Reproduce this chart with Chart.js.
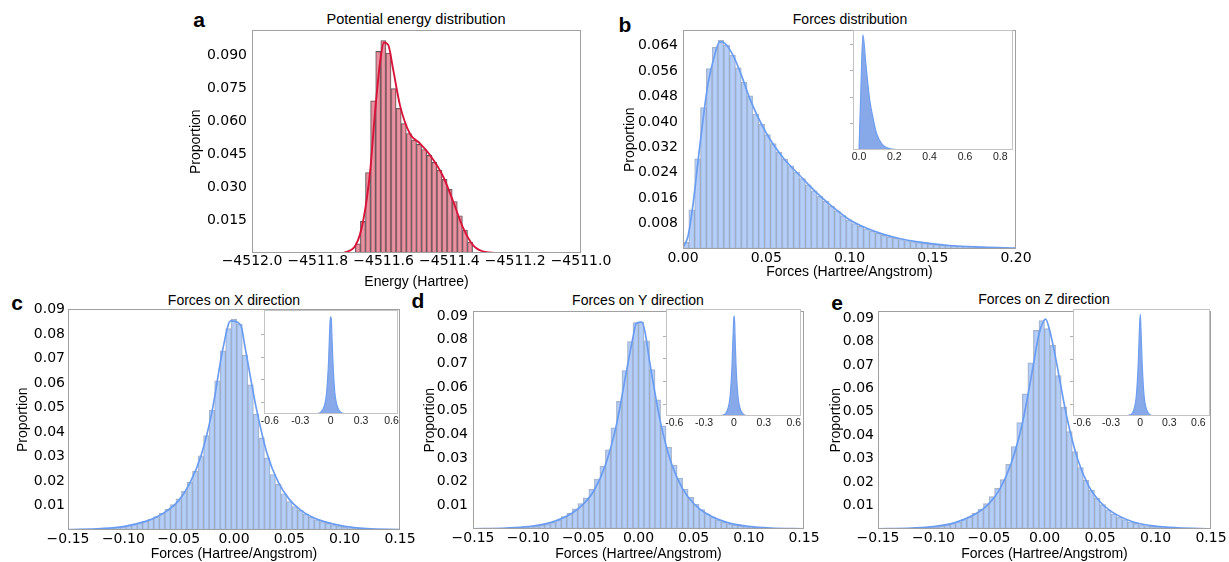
<!DOCTYPE html>
<html>
<head>
<meta charset="utf-8">
<script src="https://cdn.jsdelivr.net/npm/chart.js@4.4.1/dist/chart.umd.min.js"></script>
<style>
  html, body { margin: 0; padding: 0; background: #fff; }
  body { position: relative; width: 1229px; height: 562px; overflow: hidden; }
  canvas { position: absolute; }
  .ttl { position: absolute; font-family: "Liberation Sans", Arial, sans-serif; font-size: 14px; color: #000; white-space: nowrap; transform: translate(-50%, -50%); }
  .lt { position: absolute; font-family: "Liberation Sans", Arial, sans-serif; font-weight: bold; font-size: 21px; line-height: 21px; color: #000; transform: translateX(-50%); }
</style>
</head>
<body>
<div class="lt" style="left:199px;top:9px">a</div>
<div class="lt" style="left:625px;top:14px">b</div>
<div class="lt" style="left:17px;top:292px">c</div>
<div class="lt" style="left:418px;top:290px">d</div>
<div class="lt" style="left:837px;top:292px">e</div>

<div class="ttl" style="left:416px;top:19px;font-size:14.5px">Potential energy distribution</div>
<div class="ttl" style="left:850px;top:19px">Forces distribution</div>
<div class="ttl" style="left:234px;top:300px">Forces on X direction</div>
<div class="ttl" style="left:638px;top:300px">Forces on Y direction</div>
<div class="ttl" style="left:1044px;top:299px">Forces on Z direction</div>

<canvas id="pa"></canvas>
<canvas id="pb"></canvas>
<canvas id="pc"></canvas>
<canvas id="pd"></canvas>
<canvas id="pe"></canvas>
<canvas id="ib"></canvas>
<canvas id="ic"></canvas>
<canvas id="id"></canvas>
<canvas id="ie"></canvas>

<script>
// ---- panel a : potential energy ----
const energyBinStart = -4511.686;
const energyBinWidth = 0.0155;
const energyBars = [0.0042, 0.0144, 0.0367, 0.0694, 0.0919, 0.0969, 0.0912, 0.0750, 0.0660, 0.0590,
  0.0545, 0.0515, 0.0495, 0.0472, 0.0445, 0.0413, 0.0378, 0.0336, 0.0290, 0.0235, 0.0170, 0.0105, 0.0050];
const energyKdeX = [-4511.7225, -4511.685, -4511.662, -4511.641, -4511.626, -4511.611, -4511.599, -4511.586,
  -4511.571, -4511.550, -4511.520, -4511.489, -4511.459, -4511.419, -4511.389, -4511.359, -4511.327, -4511.287, -4511.236];
const energyKdeY = [0, 0.0035, 0.0147, 0.0372, 0.0642, 0.0867, 0.0960, 0.0949, 0.0837, 0.0672, 0.0544, 0.0499,
  0.0447, 0.0349, 0.0237, 0.0117, 0.0034, 0.0004, 0];
const energyXTicks = [-4512.0, -4511.8, -4511.6, -4511.4, -4511.2, -4511.0];
const energyXLabels = ['−4512.0', '−4511.8', '−4511.6', '−4511.4', '−4511.2', '−4511.0'];
const energyYTicks = [0.015, 0.030, 0.045, 0.060, 0.075, 0.090];
const energyYLabels = ['0.015', '0.030', '0.045', '0.060', '0.075', '0.090'];

// ---- panel b : force magnitude ----
const forceBinStart = 0;
const forceBinWidth = 0.0035;
const forceBars = [0.0021, 0.0123, 0.0284, 0.0445, 0.0568, 0.0635, 0.0657, 0.0642, 0.0610, 0.0570,
  0.0525, 0.0482, 0.0425, 0.0392, 0.0360, 0.0332, 0.0305, 0.0283, 0.0262, 0.0242,
  0.0222, 0.0202, 0.0183, 0.0166, 0.0150, 0.0135, 0.0120, 0.0105, 0.0092, 0.0080,
  0.0071, 0.0063, 0.0056, 0.0049, 0.0043, 0.0038, 0.0034, 0.0030, 0.0026, 0.0023,
  0.0020, 0.0018, 0.0016, 0.0014, 0.0012, 0.0011, 0.0010, 0.0009, 0.0008, 0.0007,
  0.0006, 0.0005, 0.0005, 0.0004, 0.0004, 0.0003, 0.0003];
const forceKdeX = [0, 0.003, 0.006, 0.01, 0.015, 0.019, 0.022, 0.025, 0.03, 0.035, 0.04, 0.05, 0.06, 0.07,
  0.08, 0.09, 0.10, 0.11, 0.12, 0.13, 0.14, 0.16, 0.18, 0.20];
const forceKdeY = [0.0005, 0.004, 0.014, 0.032, 0.052, 0.061, 0.0652, 0.0648, 0.0610, 0.0548, 0.0475, 0.0365,
  0.0288, 0.0232, 0.0178, 0.0132, 0.0092, 0.0066, 0.0047, 0.0033, 0.0023, 0.0011, 0.0006, 0.0003];
const forceXTicks = [0, 0.05, 0.10, 0.15, 0.20];
const forceXLabels = ['0.00', '0.05', '0.10', '0.15', '0.20'];
const forceYTicks = [0.008, 0.016, 0.024, 0.032, 0.040, 0.048, 0.056, 0.064];
const forceYLabels = ['0.008', '0.016', '0.024', '0.032', '0.040', '0.048', '0.056', '0.064'];
const forceInsetX = [0, 0.01, 0.022, 0.04, 0.06, 0.08, 0.10, 0.13, 0.16, 0.2, 0.3, 0.5, 0.87];
const forceInsetY = [0, 0.032, 0.0652, 0.0475, 0.0288, 0.0178, 0.0092, 0.0033, 0.0012, 0.0003, 0.0001, 0, 0];
const forceInsetXTicks = [0, 0.2, 0.4, 0.6, 0.8];
const forceInsetXLabels = ['0.0', '0.2', '0.4', '0.6', '0.8'];

// ---- panels c, d, e : force components ----
const compXTicks = [-0.15, -0.10, -0.05, 0, 0.05, 0.10, 0.15];
const compXLabels = ['−0.15', '−0.10', '−0.05', '0.00', '0.05', '0.10', '0.15'];
const compYTicks = [0.01, 0.02, 0.03, 0.04, 0.05, 0.06, 0.07, 0.08, 0.09];
const compYLabels = ['0.01', '0.02', '0.03', '0.04', '0.05', '0.06', '0.07', '0.08', '0.09'];
const compInsetXTicks = [-0.6, -0.3, 0, 0.3, 0.6];
const compInsetXLabels = ['-0.6', '-0.3', '0', '0.3', '0.6'];
const compBinWidth = 0.005;

const fxBinStart = -0.1525;
const fxBars = [0.0001, 0.0001, 0.0001, 0.0002, 0.0002, 0.0003, 0.0004, 0.0005, 0.0007, 0.0009,
  0.0013, 0.0017, 0.0023, 0.0028, 0.0035, 0.0044, 0.0055, 0.0069, 0.0084, 0.0104,
  0.0127, 0.0158, 0.0195, 0.0240, 0.0303, 0.0385, 0.0489, 0.0609, 0.0731, 0.0822,
  0.0860,
  0.0839, 0.0714, 0.0592, 0.0473, 0.0376, 0.0294, 0.0226, 0.0186, 0.0148, 0.0116,
  0.0096, 0.0080, 0.0065, 0.0053, 0.0042, 0.0034, 0.0027, 0.0021, 0.0016, 0.0012,
  0.0009, 0.0007, 0.0005, 0.0004, 0.0003, 0.0002, 0.0002, 0.0001, 0.0001];
const fxKdeX = [-0.15, -0.12, -0.10, -0.08, -0.07, -0.06, -0.05, -0.04, -0.03, -0.02, -0.01, -0.003,
  0.006, 0.01, 0.02, 0.03, 0.04, 0.05, 0.06, 0.07, 0.08, 0.10, 0.12, 0.15];
const fxKdeY = [0.0002, 0.0006, 0.0014, 0.0035, 0.0053, 0.0080, 0.0120, 0.0190, 0.0300, 0.0480, 0.0740, 0.0853,
  0.0837, 0.0745, 0.0500, 0.0310, 0.0195, 0.0125, 0.0082, 0.0054, 0.0036, 0.0015, 0.0006, 0.0002];
const fxInsetX = [-0.66, -0.3, -0.15, -0.1, -0.06, -0.04, -0.02, -0.01, -0.003, 0.006, 0.01, 0.02, 0.04, 0.06, 0.1, 0.15, 0.3, 0.66];
const fxInsetY = [0, 0, 0.0002, 0.0014, 0.0080, 0.0190, 0.0480, 0.0740, 0.0853, 0.0837, 0.0745, 0.0500, 0.0195, 0.0082, 0.0015, 0.0002, 0, 0];

const fyBinStart = -0.15;
const fyBars = [0.0000, 0.0001, 0.0001, 0.0001, 0.0002, 0.0002, 0.0003, 0.0004, 0.0005, 0.0007,
  0.0009, 0.0012, 0.0016, 0.0021, 0.0028, 0.0038, 0.0052, 0.0066, 0.0085, 0.0107,
  0.0132, 0.0168, 0.0211, 0.0266, 0.0335, 0.0428, 0.0540, 0.0670, 0.0792, 0.0873,
  0.0875, 0.0796, 0.0674, 0.0546, 0.0436, 0.0346, 0.0270, 0.0215, 0.0169, 0.0134,
  0.0104, 0.0082, 0.0064, 0.0050, 0.0038, 0.0029, 0.0022, 0.0017, 0.0013, 0.0010,
  0.0007, 0.0005, 0.0004, 0.0003, 0.0002, 0.0002, 0.0001, 0.0001, 0.0001, 0.0000];
const fyKdeX = [-0.15, -0.12, -0.10, -0.08, -0.06, -0.05, -0.04, -0.03, -0.02, -0.01, -0.005, -0.002,
  0.003, 0.006, 0.01, 0.02, 0.03, 0.04, 0.05, 0.06, 0.08, 0.10, 0.12, 0.15];
const fyKdeY = [0.0001, 0.0004, 0.0010, 0.0027, 0.0068, 0.0105, 0.0165, 0.0270, 0.0440, 0.0690, 0.0810, 0.0870,
  0.0875, 0.0830, 0.0710, 0.0450, 0.0275, 0.0170, 0.0108, 0.0070, 0.0028, 0.0011, 0.0004, 0.0001];
const fyInsetX = [-0.68, -0.3, -0.15, -0.1, -0.06, -0.04, -0.02, -0.01, 0, 0.004, 0.01, 0.02, 0.04, 0.06, 0.1, 0.15, 0.3, 0.68];
const fyInsetY = [0, 0, 0.0002, 0.0010, 0.0068, 0.0165, 0.0440, 0.0690, 0.0870, 0.0875, 0.0710, 0.0450, 0.0170, 0.0070, 0.0011, 0.0002, 0, 0];

const fzBinStart = -0.15;
const fzBars = [0.0000, 0.0001, 0.0001, 0.0001, 0.0002, 0.0002, 0.0003, 0.0004, 0.0005, 0.0007,
  0.0010, 0.0013, 0.0017, 0.0023, 0.0030, 0.0040, 0.0052, 0.0067, 0.0085, 0.0108,
  0.0138, 0.0173, 0.0211, 0.0276, 0.0352, 0.0454, 0.0576, 0.0709, 0.0847, 0.0889,
  0.0855, 0.0784, 0.0654, 0.0520, 0.0415, 0.0330, 0.0262, 0.0208, 0.0166, 0.0132,
  0.0104, 0.0082, 0.0065, 0.0051, 0.0040, 0.0031, 0.0024, 0.0018, 0.0014, 0.0011,
  0.0008, 0.0006, 0.0005, 0.0003, 0.0002, 0.0002, 0.0001, 0.0001, 0.0001, 0.0000];
const fzKdeX = [-0.15, -0.12, -0.10, -0.08, -0.06, -0.05, -0.04, -0.03, -0.02, -0.01, -0.005, 0.001,
  0.005, 0.01, 0.02, 0.03, 0.04, 0.05, 0.06, 0.08, 0.10, 0.12, 0.15];
const fzKdeY = [0.0001, 0.0004, 0.0010, 0.0028, 0.0070, 0.0108, 0.0172, 0.0280, 0.0450, 0.0700, 0.0830, 0.0895,
  0.0840, 0.0730, 0.0480, 0.0295, 0.0182, 0.0116, 0.0075, 0.0030, 0.0012, 0.0005, 0.0001];
const fzInsetX = [-0.69, -0.3, -0.15, -0.1, -0.06, -0.04, -0.02, -0.01, 0.001, 0.005, 0.01, 0.02, 0.04, 0.06, 0.1, 0.15, 0.3, 0.72];
const fzInsetY = [0, 0, 0.0002, 0.0010, 0.0070, 0.0172, 0.0450, 0.0700, 0.0895, 0.0840, 0.0730, 0.0480, 0.0182, 0.0075, 0.0012, 0.0002, 0, 0];

// ---- drawing ----
const tickFont = { family: '"DejaVu Sans", sans-serif', size: 14 };
const labelFont = { family: '"Liberation Sans", Arial, sans-serif', size: 14 };
const insetFont = { family: '"Liberation Sans", Arial, sans-serif', size: 10.5 };

const frame = {
  id: 'frame',
  beforeDraw(chart, args, opts) {
    if (!opts.fill) return;
    const a = chart.chartArea;
    chart.ctx.save();
    chart.ctx.fillStyle = opts.fill;
    chart.ctx.fillRect(a.left, a.top, a.width, a.height);
    chart.ctx.restore();
  },
  afterDraw(chart, args, opts) {
    const a = chart.chartArea, ctx = chart.ctx;
    ctx.save();
    ctx.strokeStyle = opts.color;
    ctx.lineWidth = 1;
    ctx.strokeRect(Math.round(a.left) + 0.5, Math.round(a.top) + 0.5, Math.round(a.width) - 1, Math.round(a.height) - 1);
    ctx.restore();
  }
};

function binData(start, width, heights) {
  return heights.map((h, i) => ({ x: start + (i + 0.5) * width, y: h }));
}
function pairs(xs, ys) {
  return xs.map((x, i) => ({ x: x, y: ys[i] }));
}

function placeCanvas(id, left, top, right, bottom) {
  const cv = document.getElementById(id);
  cv.width = right - left;
  cv.height = bottom - top;
  cv.style.left = left + 'px';
  cv.style.top = top + 'px';
  return cv;
}

// box: plot area L,T,R,B ; yt = centre x of y title ; xt = centre y of x title
function mainPanel(id, box, c) {
  const left = Math.round(box.yt - 8.4), top = Math.round(box.T) - 10;
  const right = Math.round(box.R) + box.pr, bottom = Math.round(box.xt + 8.4);
  const cv = placeCanvas(id, left, top, right, bottom);
  const yw = Math.round(box.L) - left, xh = bottom - Math.round(box.B);
  return new Chart(cv, {
    type: 'bar',
    data: {
      datasets: [
        { type: 'line', data: pairs(c.kdeX, c.kdeY), borderColor: c.lineColor, borderWidth: c.lineWidth,
          pointRadius: 0, fill: false, cubicInterpolationMode: 'monotone', order: 1 },
        { type: 'bar', data: binData(c.binStart, c.binWidth, c.bars), backgroundColor: c.barColor,
          borderColor: c.edgeColor, borderWidth: 0.8, borderSkipped: false,
          barPercentage: 1, categoryPercentage: 1, grouped: false, order: 2 }
      ]
    },
    options: {
      responsive: false, animation: false, devicePixelRatio: 1,
      layout: { padding: { top: 10, right: box.pr, left: 0, bottom: 0 } },
      plugins: { legend: { display: false }, tooltip: { enabled: false }, frame: { color: '#a0a0a0' } },
      scales: {
        x: {
          type: 'linear', min: c.xmin, max: c.xmax, offset: false,
          grid: { display: false, drawTicks: false }, border: { display: false },
          ticks: { autoSkip: false, maxRotation: 0, minRotation: 0, padding: box.xp, color: '#000', font: tickFont,
            callback: (v, i) => c.xLabels[i] },
          afterBuildTicks: s => { s.ticks = c.xTicks.map(v => ({ value: v })); },
          afterFit: s => { s.height = xh; },
          title: { display: true, text: c.xTitle, color: '#000', font: labelFont, padding: 0 }
        },
        y: {
          type: 'linear', min: 0, max: c.ymax,
          grid: { display: false, drawTicks: false }, border: { display: false },
          ticks: { autoSkip: false, padding: box.yp, color: '#000', font: tickFont,
            callback: (v, i) => c.yLabels[i] },
          afterBuildTicks: s => { s.ticks = c.yTicks.map(v => ({ value: v })); },
          afterFit: s => { s.width = yw; },
          title: { display: true, text: 'Proportion', color: '#000', font: labelFont, padding: 0 }
        }
      }
    },
    plugins: [frame]
  });
}

function insetPanel(id, box, c) {
  const left = Math.round(box.L) - 8, top = Math.round(box.T) - 2;
  const right = Math.round(box.R) + 12, bottom = Math.round(box.B) + 15;
  const cv = placeCanvas(id, left, top, right, bottom);
  return new Chart(cv, {
    type: 'line',
    data: {
      datasets: [{ data: pairs(c.x, c.y), borderColor: '#6f9ef0', borderWidth: 1.2, pointRadius: 0,
        backgroundColor: 'rgba(95,140,225,0.75)', fill: 'origin', cubicInterpolationMode: 'monotone' }]
    },
    options: {
      responsive: false, animation: false, devicePixelRatio: 1,
      layout: { padding: { top: 2, right: 12, left: 0, bottom: 0 } },
      plugins: { legend: { display: false }, tooltip: { enabled: false }, frame: { color: '#c4c4c4', fill: '#fff' } },
      scales: {
        x: {
          type: 'linear', min: box.xmin, max: box.xmax,
          grid: { display: false, drawTicks: false }, border: { display: false },
          ticks: { autoSkip: false, maxRotation: 0, padding: 1, color: '#222', font: insetFont,
            callback: (v, i) => c.xLabels[i] },
          afterBuildTicks: s => { s.ticks = c.xTicks.map(v => ({ value: v })); },
          afterFit: s => { s.height = 15; }
        },
        y: {
          type: 'linear', min: 0, max: box.ymax,
          grid: { display: true, drawOnChartArea: false, drawTicks: true, tickLength: 3, color: '#b0b0b0' },
          border: { display: false },
          ticks: { display: false },
          afterBuildTicks: s => { s.ticks = c.yTicks.map(v => ({ value: v })); },
          afterFit: s => { s.width = 8; }
        }
      }
    },
    plugins: [frame]
  });
}

const redBar = 'rgba(226,110,130,0.75)';
const blueBar = 'rgba(160,192,245,0.78)';
const blueEdge = 'rgba(130,145,170,0.7)';
const blueLine = '#6a9cf2';

mainPanel('pa', { L: 252, T: 27, R: 581, B: 252.5, yt: 196.7, xt: 283, pr: 36, xp: 0, yp: 5 }, {
  xmin: -4512, xmax: -4511, ymax: 0.1015,
  xTicks: energyXTicks, xLabels: energyXLabels, yTicks: energyYTicks, yLabels: energyYLabels,
  xTitle: 'Energy (Hartree)',
  binStart: energyBinStart, binWidth: energyBinWidth, bars: energyBars,
  barColor: redBar, edgeColor: '#5a5a5a', kdeX: energyKdeX, kdeY: energyKdeY, lineColor: '#d8143a', lineWidth: 1.9
});
mainPanel('pb', { L: 683.3, T: 26.7, R: 1016, B: 248.5, yt: 630, xt: 273, pr: 20, xp: 1, yp: 5 }, {
  xmin: 0, xmax: 0.2, ymax: 0.0688,
  xTicks: forceXTicks, xLabels: forceXLabels, yTicks: forceYTicks, yLabels: forceYLabels,
  xTitle: 'Forces (Hartree/Angstrom)',
  binStart: forceBinStart, binWidth: forceBinWidth, bars: forceBars,
  barColor: blueBar, edgeColor: blueEdge, kdeX: forceKdeX, kdeY: forceKdeY, lineColor: blueLine, lineWidth: 1.7
});
mainPanel('pc', { L: 67.7, T: 308.3, R: 400, B: 529.5, yt: 23.3, xt: 554.3, pr: 20, xp: 1, yp: 3 }, {
  xmin: -0.15, xmax: 0.15, ymax: 0.0900,
  xTicks: compXTicks, xLabels: compXLabels, yTicks: compYTicks, yLabels: compYLabels,
  xTitle: 'Forces (Hartree/Angstrom)',
  binStart: fxBinStart, binWidth: compBinWidth, bars: fxBars,
  barColor: blueBar, edgeColor: blueEdge, kdeX: fxKdeX, kdeY: fxKdeY, lineColor: blueLine, lineWidth: 1.7
});
mainPanel('pd', { L: 472.7, T: 307.7, R: 804.3, B: 529.3, yt: 430.5, xt: 554.3, pr: 20, xp: 1, yp: 5 }, {
  xmin: -0.15, xmax: 0.15, ymax: 0.0920,
  xTicks: compXTicks, xLabels: compXLabels, yTicks: compYTicks, yLabels: compYLabels,
  xTitle: 'Forces (Hartree/Angstrom)',
  binStart: fyBinStart, binWidth: compBinWidth, bars: fyBars,
  barColor: blueBar, edgeColor: blueEdge, kdeX: fyKdeX, kdeY: fyKdeY, lineColor: blueLine, lineWidth: 1.7
});
mainPanel('pe', { L: 878.3, T: 309, R: 1211, B: 529.3, yt: 836, xt: 554.3, pr: 20, xp: 1, yp: 4 }, {
  xmin: -0.15, xmax: 0.15, ymax: 0.0928,
  xTicks: compXTicks, xLabels: compXLabels, yTicks: compYTicks, yLabels: compYLabels,
  xTitle: 'Forces (Hartree/Angstrom)',
  binStart: fzBinStart, binWidth: compBinWidth, bars: fzBars,
  barColor: blueBar, edgeColor: blueEdge, kdeX: fzKdeX, kdeY: fzKdeY, lineColor: blueLine, lineWidth: 1.7
});

insetPanel('ib', { L: 853.3, T: 30, R: 1012.7, B: 149.7, xmin: -0.034, xmax: 0.872, ymax: 0.068 }, {
  x: forceInsetX, y: forceInsetY, xTicks: forceInsetXTicks, xLabels: forceInsetXLabels, yTicks: [0.015, 0.03, 0.045, 0.06]
});
insetPanel('ic', { L: 264.3, T: 310, R: 398.3, B: 414, xmin: -0.658, xmax: 0.664, ymax: 0.0913 }, {
  x: fxInsetX, y: fxInsetY, xTicks: compInsetXTicks, xLabels: compInsetXLabels, yTicks: [0.01, 0.03, 0.05, 0.07]
});
insetPanel('id', { L: 666, T: 309, R: 801, B: 415.7, xmin: -0.682, xmax: 0.672, ymax: 0.0937 }, {
  x: fyInsetX, y: fyInsetY, xTicks: compInsetXTicks, xLabels: compInsetXLabels, yTicks: [0.01, 0.03, 0.05, 0.07]
});
insetPanel('ie', { L: 1072.7, T: 309, R: 1210, B: 415.7, xmin: -0.692, xmax: 0.72, ymax: 0.0942 }, {
  x: fzInsetX, y: fzInsetY, xTicks: compInsetXTicks, xLabels: compInsetXLabels, yTicks: [0.01, 0.03, 0.05, 0.07]
});
</script>
</body>
</html>
